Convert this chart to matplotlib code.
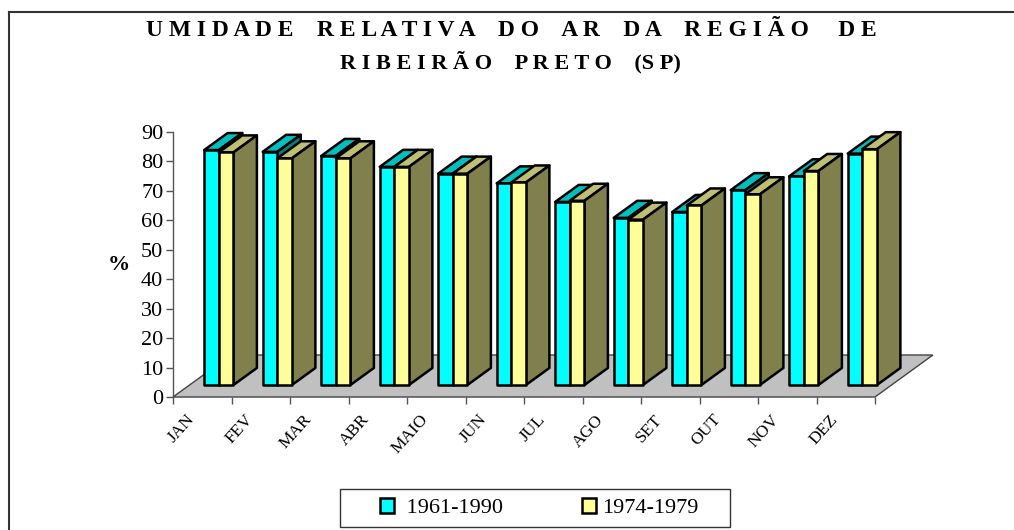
import matplotlib
matplotlib.use("Agg")
import matplotlib.pyplot as plt
from matplotlib.patches import Polygon, Rectangle, Patch
from matplotlib.lines import Line2D

months = ["JAN", "FEV", "MAR", "ABR", "MAIO", "JUN", "JUL", "AGO", "SET", "OUT", "NOV", "DEZ"]
serie_1961_1990 = [79.7, 79.1, 77.7, 74.0, 71.7, 68.4, 62.1, 56.7, 58.7, 66.1, 70.8, 78.5]
serie_1974_1979 = [78.9, 76.9, 76.9, 74.0, 71.7, 68.7, 62.5, 56.1, 60.9, 64.7, 72.6, 80.0]
y_ticks = list(range(0, 100, 10))
title_1 = "U M I D A D E    R E L A T I V A    D O    A R    D A    R E G I Ã O     D E"
title_2 = "R I B E I R Ã O    P R E T O    (S P)"

plt.rcParams["font.family"] = ["Liberation Serif", "DejaVu Serif"]
W, H = 1014, 530
fig = plt.figure(figsize=(W / 100, H / 100), dpi=100)
ax = fig.add_axes([173 / W, (H - 397) / H, 702 / W, 265.3 / H])
ax.set_xlim(0, 12)
ax.set_ylim(0, 90)
ax.patch.set_visible(False)
for s in ["top", "right", "bottom"]:
    ax.spines[s].set_visible(False)
ax.spines["left"].set_color("#555555")
ax.spines["left"].set_linewidth(1)

DX, DY = 0.99, 14.25      # full floor depth in data units
D0, DB = 0.286, 0.405     # bar start depth and bar depth
BW, GAP = 0.25, 0.25

def P(x, v, d):
    return (x + d * DX, v + d * DY)

# floor
ax.add_patch(Polygon([P(0, 0, 0), P(12, 0, 0), P(12, 0, 1), P(0, 0, 1)], closed=True,
                     facecolor="#C0C0C0", edgecolor="#444444", lw=1, clip_on=False, zorder=1))

def box(x, v, front, top, side, z):
    kw = dict(closed=True, edgecolor="black", lw=1.8, clip_on=False, zorder=z, joinstyle="round")
    ax.add_patch(Polygon([P(x, v, D0), P(x + BW, v, D0), P(x + BW, v, D0 + DB), P(x, v, D0 + DB)],
                         facecolor=top, **kw))
    ax.add_patch(Polygon([P(x + BW, 0, D0), P(x + BW, v, D0), P(x + BW, v, D0 + DB), P(x + BW, 0, D0 + DB)],
                         facecolor=side, **kw))
    ax.add_patch(Polygon([P(x, 0, D0), P(x + BW, 0, D0), P(x + BW, v, D0), P(x, v, D0)],
                         facecolor=front, **kw))

for k in range(12):
    box(k + GAP, serie_1961_1990[k], "#00FFFF", "#00BFBF", "#008080", 2 + k * 2)
    box(k + GAP + BW, serie_1974_1979[k], "#FFFF99", "#BFBF73", "#80804C", 3 + k * 2)

ax.set_yticks(y_ticks)
ax.tick_params(axis="y", labelsize=16, length=5, width=1, color="#555555", pad=2)
ax.set_xticks(range(13))
ax.set_xticklabels([""] * 13)
ax.tick_params(axis="x", length=5, width=1, color="#555555")

for k, m in enumerate(months):
    ax.annotate(m, xy=(k, 0), xytext=(13.5, -14.4), textcoords="offset points",
                rotation=48, rotation_mode="anchor", ha="right", va="center",
                fontsize=12.5, annotation_clip=False)

fig.text(119 / W, 1 - 265 / H, "%", fontsize=16, fontweight="bold", ha="center", va="center")
fig.text(511.5 / W, 1 - 31 / H, title_1, fontsize=16.9, fontweight="bold", ha="center", va="center")
fig.text(510.5 / W, 1 - 62 / H, title_2, fontsize=16, fontweight="bold", ha="center", va="center")

# outer frame
fig.add_artist(Line2D([9 / W, 1], [1 - 12 / H, 1 - 12 / H], color="#333333", lw=1.5))
fig.add_artist(Line2D([9 / W, 9 / W], [1 - 12 / H, 0], color="#333333", lw=1.5))

# legend
fig.add_artist(Rectangle((340 / W, 1 - 527 / H), 390 / W, 38 / H, transform=fig.transFigure,
                         facecolor="white", edgecolor="#333333", lw=1))
handles = [Patch(facecolor="#00FFFF", edgecolor="black", lw=1.8),
           Patch(facecolor="#FFFF99", edgecolor="black", lw=1.8)]
fig.legend(handles, [" 1961-1990", "1974-1979"], ncols=2, frameon=False, fontsize=16,
           loc="center left", bbox_to_anchor=(380 / W, 1 - 508 / H), borderpad=0, borderaxespad=0,
           handlelength=0.63, handleheight=0.63, handletextpad=0.3, columnspacing=3.55)

fig.savefig("out.png", dpi=100)
